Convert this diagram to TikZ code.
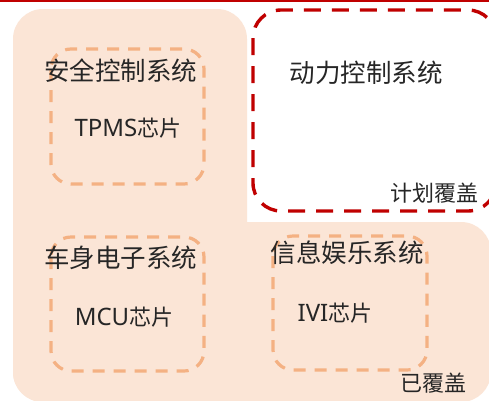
\documentclass[tikz,border=0pt]{standalone}
\usepackage{fontspec}
\setmainfont{Noto Sans CJK SC}
\newfontfamily\latinf{Noto Sans}
\definecolor{peach}{HTML}{FBE5D6}
\definecolor{dorange}{HTML}{F4B183}
\definecolor{dred}{HTML}{C00000}
\definecolor{txt}{HTML}{262626}
\newcommand{\lat}[1]{{\latinf\fontsize{24}{26}\selectfont #1}}
\tikzset{
  orangebox/.style={draw=dorange, line width=3.2pt, dash pattern=on 12pt off 9pt, rounded corners=20pt},
  redbox/.style={draw=dred, line width=3.4pt, dash pattern=on 17pt off 11pt, rounded corners=28pt},
  biglabel/.style={font=\fontsize{25.5}{28}\selectfont, text=txt, inner sep=0pt},
  smalllabel/.style={font=\fontsize{22}{24}\selectfont, text=txt, inner sep=0pt},
}
\begin{document}
\begin{tikzpicture}[x=1pt,y=-1pt]
\useasboundingbox (0,0) rectangle (489,400);
\clip (0,0) rectangle (489,400);
\fill[white] (0,0) rectangle (489,400);
% peach L shape
\fill[peach, rounded corners=30pt] (13,9) rectangle (247,402);
\fill[peach, rounded corners=30pt] (13,222) rectangle (491,402);
% top red line
\draw[dred, line width=2pt] (0,0.5) -- (489,0.5);
% red dashed box
\draw[redbox] (253,10) rectangle (496,211);
% orange dashed boxes
\draw[orangebox] (51,49) rectangle (204,184);
\draw[orangebox] (51,237) rectangle (204,371);
\draw[orangebox] (273,236) rectangle (427,370);
% labels
\node[biglabel] (aq) at (120.5,71) {安全控制系统};
\node[smalllabel] (tpms) at (128,128) {\lat{TPMS}芯片};
\node[biglabel] (dl) at (366,73) {动力控制系统};
\node[smalllabel] (jh) at (434,193) {计划覆盖};
\node[biglabel] (cs) at (120.5,258) {车身电子系统};
\node[smalllabel] (mcu) at (124,317) {\lat{MCU}芯片};
\node[biglabel] (xx) at (347,253) {信息娱乐系统};
\node[smalllabel] (ivi) at (335,313) {\lat{IVI}芯片};
\node[smalllabel] (yf) at (433.5,383) {已覆盖};
\end{tikzpicture}
\end{document}
